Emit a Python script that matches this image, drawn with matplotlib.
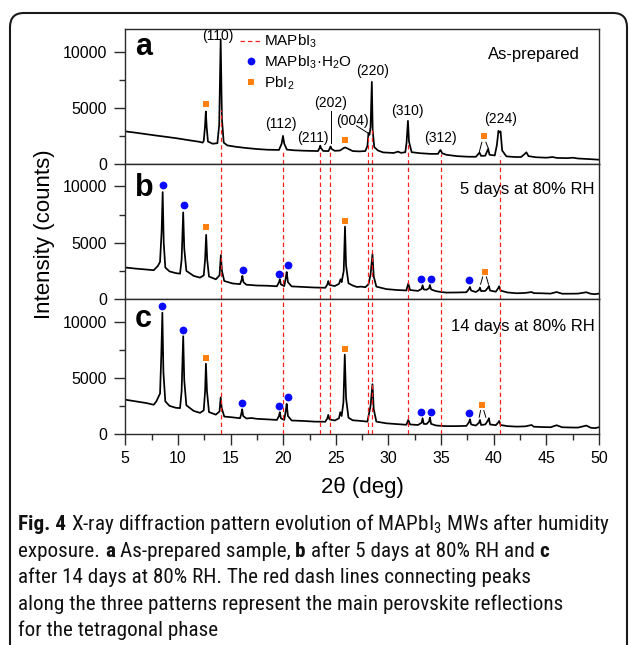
import numpy as np
import matplotlib
matplotlib.use("Agg")
import matplotlib.pyplot as plt
import matplotlib.font_manager as fm
from matplotlib.lines import Line2D
from matplotlib.patches import FancyBboxPatch
from matplotlib.ticker import MultipleLocator

# ---------- data (2theta in deg, intensity in counts) ----------
pattern_a = [
    (5.0, 2900), (6.0, 2780), (7.0, 2650), (8.0, 2520), (9.0, 2400), (10.0, 2270), (11.0, 2120),
    (12.0, 1980), (12.35, 1900), (12.45, 2050), (12.57, 3300), (12.65, 4670), (12.73, 3300),
    (12.85, 2000), (13.3, 1800), (13.75, 1850), (13.92, 3500), (14.06, 11100), (14.18, 4000),
    (14.35, 1900), (14.7, 1650), (15.5, 1530), (16.5, 1420), (17.5, 1330), (18.5, 1270),
    (19.6, 1250), (19.85, 1800), (19.98, 2500), (20.1, 1800), (20.35, 1280), (21.0, 1220),
    (22.0, 1180), (23.3, 1150), (23.45, 1400), (23.52, 1630), (23.6, 1400), (23.8, 1160),
    (24.3, 1150), (24.43, 1400), (24.5, 1560), (24.58, 1350), (24.9, 1170), (25.4, 1200),
    (25.75, 1420), (25.9, 1470), (26.1, 1380), (26.6, 1150), (27.2, 1120), (27.8, 1150),
    (28.0, 1600), (28.1, 2750), (28.2, 2600), (28.3, 3300), (28.42, 7300), (28.5, 3000),
    (28.65, 1500), (29.0, 1200), (29.5, 1030), (30.5, 980), (30.9, 1100), (31.2, 990),
    (31.6, 1050), (31.72, 1900), (31.85, 3840), (31.95, 2000), (32.2, 1050), (33.0, 960),
    (34.0, 900), (34.7, 900), (34.88, 1180), (34.95, 1250), (35.1, 950), (35.5, 820),
    (36.5, 700), (37.5, 650), (38.3, 640), (38.55, 900), (38.65, 1010), (38.8, 720),
    (39.2, 740), (39.4, 1200), (39.47, 1340), (39.6, 820), (40.1, 760), (40.3, 1700),
    (40.45, 2950), (40.55, 2800), (40.65, 2900), (40.8, 1200), (41.2, 680), (42.0, 620),
    (42.6, 620), (42.95, 900), (43.1, 1040), (43.3, 700), (44.0, 600), (45.0, 560),
    (45.6, 620), (46.0, 540), (47.0, 520), (47.5, 560), (48.0, 490), (49.0, 440), (50.0, 380),
]
pattern_b = [
    (5.0, 2800), (6.0, 2700), (7.0, 2620), (7.7, 2560), (7.95, 2800), (8.1, 2950), (8.3, 3300),
    (8.45, 6000), (8.55, 9500), (8.65, 5000), (8.8, 2800), (9.2, 2450), (9.8, 2300), (10.2, 2250),
    (10.35, 3500), (10.5, 7700), (10.6, 4500), (10.8, 2500), (11.5, 2050), (12.1, 1900),
    (12.45, 2100), (12.58, 3500), (12.68, 5700), (12.78, 3500), (12.95, 2000), (13.6, 1750),
    (13.95, 2100), (14.08, 3900), (14.18, 2500), (14.4, 1600), (15.2, 1380), (15.9, 1320),
    (16.05, 1700), (16.12, 2050), (16.22, 1500), (16.5, 1270), (17.5, 1200), (18.5, 1180),
    (19.4, 1130), (19.6, 1500), (19.68, 1760), (19.78, 1300), (20.1, 1150), (20.25, 1900),
    (20.33, 2400), (20.45, 1500), (20.8, 1120), (21.9, 1070), (23.0, 1020), (24.0, 1000),
    (24.2, 1300), (24.28, 1600), (24.4, 1250), (24.9, 1150), (25.3, 1350), (25.45, 1760),
    (25.55, 1500), (25.75, 2500), (25.87, 6430), (25.97, 3000), (26.2, 1400), (26.6, 1200),
    (27.0, 1070), (27.4, 1100), (27.8, 1050), (28.1, 1300), (28.3, 2200), (28.48, 3990),
    (28.6, 2000), (28.85, 1100), (29.8, 880), (30.8, 800), (31.7, 760), (31.88, 1370),
    (32.05, 800), (32.8, 720), (33.15, 900), (33.24, 1220), (33.35, 850), (33.6, 820),
    (33.85, 950), (33.94, 1250), (34.05, 850), (34.5, 700), (35.0, 620), (35.5, 570),
    (36.5, 580), (37.4, 600), (37.65, 900), (37.74, 1070), (37.85, 750), (38.3, 620),
    (38.6, 800), (38.69, 1010), (38.8, 700), (39.2, 720), (39.45, 1000), (39.54, 1160),
    (39.65, 750), (40.2, 650), (40.45, 1000), (40.52, 1130), (40.65, 750), (41.3, 580),
    (42.2, 510), (43.0, 540), (43.6, 620), (43.8, 520), (44.5, 510), (45.4, 480), (45.97, 620),
    (46.5, 470), (47.2, 470), (48.0, 480), (48.8, 600), (49.2, 470), (49.6, 430), (50.0, 480),
]
pattern_c = [
    (5.0, 3050), (6.0, 2900), (7.0, 2750), (7.7, 2600), (7.95, 2900), (8.1, 3200), (8.3, 3600),
    (8.42, 7000), (8.52, 10780), (8.62, 5500), (8.8, 2900), (9.2, 2500), (9.8, 2330), (10.2, 2300),
    (10.35, 3800), (10.5, 8690), (10.6, 4800), (10.8, 2550), (11.5, 2050), (12.1, 1880),
    (12.45, 2100), (12.58, 3800), (12.66, 6250), (12.76, 3800), (12.95, 1950), (13.6, 1720),
    (13.95, 2000), (14.06, 3250), (14.16, 2300), (14.4, 1550), (15.2, 1480), (15.9, 1400),
    (16.02, 1800), (16.1, 2200), (16.2, 1600), (16.5, 1380), (17.0, 1420), (17.5, 1350),
    (18.5, 1300), (19.4, 1250), (19.6, 1600), (19.68, 1940), (19.78, 1400), (20.1, 1250),
    (20.25, 2100), (20.33, 2680), (20.45, 1600), (20.8, 1200), (21.9, 1160), (23.0, 1100),
    (24.0, 1090), (24.2, 1400), (24.28, 1700), (24.4, 1300), (24.9, 1200), (25.3, 1400),
    (25.42, 1940), (25.55, 1600), (25.72, 2800), (25.85, 7050), (25.97, 3200), (26.2, 1450),
    (26.6, 1220), (27.0, 1190), (27.5, 1150), (28.0, 1100), (28.3, 2500), (28.48, 4430),
    (28.6, 2200), (28.85, 1100), (29.8, 950), (30.8, 880), (31.7, 820), (31.88, 1250),
    (32.05, 850), (32.8, 800), (33.15, 1000), (33.24, 1400), (33.35, 900), (33.6, 880),
    (33.85, 1100), (33.94, 1460), (34.05, 900), (34.5, 760), (35.0, 720), (35.5, 700),
    (36.5, 700), (37.4, 720), (37.65, 1050), (37.74, 1310), (37.85, 850), (38.3, 750),
    (38.6, 1000), (38.69, 1250), (38.8, 800), (39.2, 850), (39.45, 1200), (39.54, 1400),
    (39.65, 850), (40.2, 780), (40.45, 1050), (40.52, 1160), (40.65, 800), (41.3, 700),
    (42.2, 655), (43.0, 680), (43.6, 800), (43.8, 650), (44.5, 620), (45.4, 600), (45.97, 780),
    (46.5, 600), (47.2, 580), (48.0, 570), (48.8, 750), (49.2, 560), (49.6, 520), (50.0, 600),
]

# MAPbI3 tetragonal reflections (red dash lines) and where they start in panel a
ref_tth = [14.06, 19.98, 23.52, 24.48, 28.10, 28.42, 31.85, 34.95, 40.55]
ref_start_a = [4800, 1200, 1100, 1050, 2700, 3000, 1850, 850, 700]

hkl_text = ["(110)", "(112)", "(211)", "(202)", "(004)", "(220)", "(310)", "(312)", "(224)"]
hkl_tth = [13.76, 19.79, 22.83, 24.50, 26.56, 28.46, 31.78, 34.98, 40.65]
hkl_cnt = [11350, 3550, 2300, 5420, 3780, 8300, 4670, 2300, 3990]

# phase markers  (tth, counts)
hydrate_b = [(8.55, 10090), (10.57, 8360), (16.15, 2620), (19.6, 2260), (20.5, 3000),
             (33.08, 1815), (34.0, 1815), (37.67, 1725)]
hydrate_c = [(8.52, 11370), (10.5, 9230), (16.1, 2800), (19.6, 2530), (20.5, 3330),
             (33.12, 1990), (34.03, 1990), (37.67, 1850)]
pbi2_a = [(12.65, 5300), (25.9, 2150), (39.07, 2500)]
pbi2_b = [(12.7, 6370), (25.87, 6965), (39.13, 2410)]
pbi2_c = [(12.62, 6790), (25.85, 7560), (38.9, 2590)]
# little "/\" connectors from the PbI2 square to the doublet near 39 deg
doublet_a = [((38.87, 1935), (38.62, 1040)), ((39.25, 1935), (39.51, 1340))]
doublet_b = [((38.95, 1965), (38.75, 1310)), ((39.3, 1965), (39.5, 1310))]
doublet_c = [((38.75, 2085), (38.62, 1490)), ((39.06, 2085), (39.25, 1490))]

conditions = ["As-prepared", "5 days at 80% RH", "14 days at 80% RH"]
letters = ["a", "b", "c"]

# caption: each line is a list of (text, bold) runs separated by one space
caption_runs = [
    [("Fig. 4", True), ("X-ray diffraction pattern evolution of MAPbI$_3$ MWs after humidity", False)],
    [("exposure.", False), ("a", True), ("As-prepared sample,", False), ("b", True),
     ("after 5 days at 80% RH and", False), ("c", True)],
    [("after 14 days at 80% RH. The red dash lines connecting peaks", False)],
    [("along the three patterns represent the main perovskite reflections", False)],
    [("for the tetragonal phase", False)],
]

# ---------- style ----------
RED = "#ff1f1f"; BLUE = "#0a0aff"; ORANGE = "#ff7f0f"; AXC = "#2a2a2a"
DASH = (0, (3.5, 2.5))


def wnum(w):
    return w if isinstance(w, (int, float)) else fm.weight_dict.get(str(w), 400)


# caption font: a narrow/condensed face if one exists (regular + bold files)
cap_reg, cap_bold = None, None
for reg, bold in [("Liberation Sans Narrow", "Liberation Sans Narrow"),
                  ("Roboto Condensed", "Roboto Condensed"),
                  ("Open Sans Condensed Light", "Open Sans Condensed"),
                  ("Lato", "Lato"), ("Open Sans", "Open Sans")]:
    r_ = [f for f in fm.fontManager.ttflist if f.name == reg and f.style == "normal"
          and 250 <= wnum(f.weight) <= 450]
    b_ = [f for f in fm.fontManager.ttflist if f.name == bold and f.style == "normal"
          and wnum(f.weight) >= 600]
    if r_ and b_:
        r_.sort(key=lambda f: abs(wnum(f.weight) - 400))
        b_.sort(key=lambda f: abs(wnum(f.weight) - 700))
        cap_reg = fm.FontProperties(fname=r_[0].fname)
        cap_bold = fm.FontProperties(fname=b_[0].fname)
        break
if cap_reg is None:
    cap_reg = fm.FontProperties(family="DejaVu Sans")
    cap_bold = fm.FontProperties(family="DejaVu Sans", weight="bold")

plt.rcParams.update({
    "font.family": ["Liberation Sans", "DejaVu Sans"],
    "mathtext.default": "regular",
    "axes.linewidth": 1.0,
    "axes.edgecolor": AXC,
})

W, H = 629, 645
fig = plt.figure(figsize=(W / 100, H / 100), dpi=100)
x0, x1 = 125.3 / W, 599 / W
top, bot = 29 / H, 434 / H
ph = (bot - top) / 3
axes = [fig.add_axes([x0, 1 - top - (i + 1) * ph, x1 - x0, ph]) for i in range(3)]

patterns = [pattern_a, pattern_b, pattern_c]
pbi2 = [pbi2_a, pbi2_b, pbi2_c]
hydr = [None, hydrate_b, hydrate_c]
doublets = [doublet_a, doublet_b, doublet_c]
letter_y = [0.807, 0.76, 0.79]
cond_pos = [(0.959, 0.813), (0.991, 0.81), (0.991, 0.80)]

for i, ax in enumerate(axes):
    d = np.array(patterns[i], dtype=float)
    ax.plot(d[:, 0], d[:, 1], color="black", lw=1.25, zorder=2)
    if i == 0:
        ax.vlines(ref_tth, 0, ref_start_a, colors=RED, linestyles=DASH, lw=0.9, zorder=3)
    else:
        ax.vlines(ref_tth, 0, 12000, colors=RED, linestyles=DASH, lw=0.9, zorder=3)
    if hydr[i] is not None:
        m = np.array(hydr[i])
        ax.plot(m[:, 0], m[:, 1], "o", color=BLUE, ms=5.6, mew=0, zorder=4)
    m = np.array(pbi2[i])
    ax.plot(m[:, 0], m[:, 1], "s", color=ORANGE, ms=5.0, mew=0, zorder=4)
    for (p, q) in doublets[i]:
        ax.plot([p[0], q[0]], [p[1], q[1]], color="black", lw=0.7, zorder=4)

    ax.set_xlim(5, 50)
    ax.set_ylim(0, 12000)
    ax.set_yticks([0, 5000, 10000])
    ax.yaxis.set_minor_locator(MultipleLocator(2500))
    ax.set_xticks(np.arange(5, 51, 5))
    ax.xaxis.set_minor_locator(MultipleLocator(2.5))
    ax.tick_params(axis="y", which="major", direction="out", length=8, width=1, labelsize=11.5, pad=5, color=AXC)
    ax.tick_params(axis="y", which="minor", direction="out", length=4, width=1, color=AXC)
    ax.tick_params(axis="x", which="major", direction="out", length=8, width=1, labelsize=11.5, pad=4, color=AXC)
    ax.tick_params(axis="x", which="minor", direction="out", length=4, width=1, color=AXC)
    if i < 2:
        ax.tick_params(axis="x", which="both", bottom=False, labelbottom=False)

    ax.text(0.02, letter_y[i], letters[i], transform=ax.transAxes, fontsize=22,
            fontweight="bold", va="baseline", ha="left")
    ax.text(cond_pos[i][0], cond_pos[i][1], conditions[i], transform=ax.transAxes,
            fontsize=12, ha="right", va="center")

axa = axes[0]
for t, x, y in zip(hkl_text, hkl_tth, hkl_cnt):
    axa.text(x, y, t, fontsize=10, ha="center", va="center", zorder=5)
axa.plot([24.53, 24.53], [4700, 1850], color="black", lw=0.7)
axa.plot([26.97, 28.08], [3390, 2740], color="black", lw=0.7)

handles = [Line2D([], [], color=RED, ls=DASH, lw=0.9),
           Line2D([], [], ls="none", marker="o", color=BLUE, ms=5.6, mew=0),
           Line2D([], [], ls="none", marker="s", color=ORANGE, ms=5.0, mew=0)]
axa.legend(handles, ["MAPbI$_3$", "MAPbI$_3$·H$_2$O", "PbI$_2$"], loc="upper left",
           bbox_to_anchor=(0.243, 0.97), frameon=False, fontsize=11, handlelength=1.4,
           handletextpad=0.15, labelspacing=0.22, borderpad=0, borderaxespad=0)

axes[2].set_xlabel("2θ (deg)", fontsize=16, labelpad=8)
fig.text(45 / W, 1 - 234 / H, "Intensity (counts)", rotation=90, fontsize=16,
         ha="center", va="center")

# frame around figure + caption
box = FancyBboxPatch((10 / W, -0.05), (627 - 10) / W, 1 - 13 / H + 0.05,
                     boxstyle="round,pad=0,rounding_size=0.022", transform=fig.transFigure,
                     fill=False, lw=1.5, ec="#1a1a1a", clip_on=False)
fig.add_artist(box)

# ---------- caption, laid out run by run ----------
rend = fig.canvas.get_renderer()


def width_px(s, prop, fs):
    t = fig.text(0, 0, s, fontproperties=prop, fontsize=fs)
    w = t.get_window_extent(rend).width
    t.remove()
    return w


def line_width(runs, fs):
    sp = width_px("n n", cap_reg, fs) - width_px("nn", cap_reg, fs)
    return sum(width_px(s, cap_bold if b else cap_reg, fs) for s, b in runs) + sp * (len(runs) - 1)


fs = 14 * 595 / line_width(caption_runs[0], 14)
space = width_px("n n", cap_reg, fs) - width_px("nn", cap_reg, fs)
cap_base = [530, 557, 583, 610, 636]
for runs, yb in zip(caption_runs, cap_base):
    xpx = 18
    for s, b in runs:
        prop = cap_bold if b else cap_reg
        fig.text(xpx / W, 1 - yb / H, s, fontproperties=prop, fontsize=fs, ha="left",
                 va="baseline", color="#111111")
        xpx += width_px(s, prop, fs) + space

fig.savefig("out.png", dpi=100, facecolor="white")
